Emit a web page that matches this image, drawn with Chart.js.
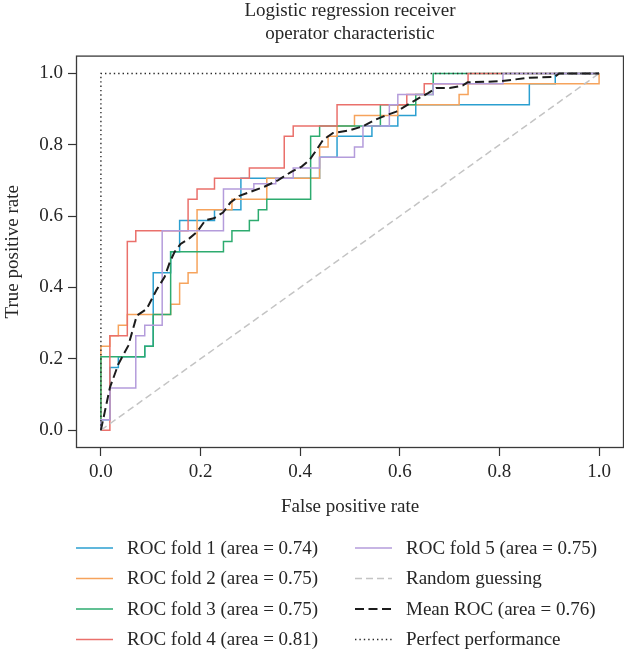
<!DOCTYPE html>
<html>
<head>
<meta charset="utf-8">
<script src="https://cdn.jsdelivr.net/npm/chart.js@4.4.1/dist/chart.umd.min.js"></script>
<style>
  html, body { margin: 0; padding: 0; background: #fff; }
  #wrap { width: 624px; height: 650px; }
</style>
</head>
<body>
<div id="wrap"><canvas id="roc" width="624" height="650"></canvas></div>
<script>
// ---- data ----
const titleLines = ['Logistic regression receiver', 'operator characteristic'];
const xTicks = [0, 0.2, 0.4, 0.6, 0.8, 1.0];
const yTicks = [0, 0.2, 0.4, 0.6, 0.8, 1.0];

const fpr1 = [0, 0, 0.018, 0.018, 0.035, 0.035, 0.088, 0.088, 0.105, 0.105, 0.140, 0.140, 0.158, 0.158, 0.228, 0.228, 0.281, 0.281, 0.439, 0.439, 0.474, 0.474, 0.544, 0.544, 0.596, 0.596, 0.632, 0.632, 0.860, 0.860, 0.912, 0.912, 1];
const tpr1 = [0, 0.029, 0.029, 0.176, 0.176, 0.206, 0.206, 0.235, 0.235, 0.441, 0.441, 0.500, 0.500, 0.588, 0.588, 0.618, 0.618, 0.706, 0.706, 0.765, 0.765, 0.824, 0.824, 0.853, 0.853, 0.882, 0.882, 0.912, 0.912, 0.971, 0.971, 1, 1];

const fpr2 = [0, 0, 0.018, 0.018, 0.035, 0.035, 0.053, 0.053, 0.140, 0.140, 0.158, 0.158, 0.175, 0.175, 0.193, 0.193, 0.263, 0.263, 0.333, 0.333, 0.439, 0.439, 0.456, 0.456, 0.474, 0.474, 0.509, 0.509, 0.596, 0.596, 0.719, 0.719, 0.737, 0.737, 1, 1];
const tpr2 = [0, 0.235, 0.235, 0.265, 0.265, 0.294, 0.294, 0.324, 0.324, 0.353, 0.353, 0.412, 0.412, 0.441, 0.441, 0.618, 0.618, 0.647, 0.647, 0.706, 0.706, 0.794, 0.794, 0.824, 0.824, 0.853, 0.853, 0.882, 0.882, 0.912, 0.912, 0.941, 0.941, 0.971, 0.971, 1];

const fpr3 = [0, 0, 0.088, 0.088, 0.105, 0.105, 0.140, 0.140, 0.246, 0.246, 0.263, 0.263, 0.298, 0.298, 0.316, 0.316, 0.333, 0.333, 0.421, 0.421, 0.439, 0.439, 0.561, 0.561, 0.632, 0.632, 0.667, 0.667, 1];
const tpr3 = [0, 0.206, 0.206, 0.235, 0.235, 0.324, 0.324, 0.500, 0.500, 0.529, 0.529, 0.559, 0.559, 0.588, 0.588, 0.618, 0.618, 0.647, 0.647, 0.824, 0.824, 0.853, 0.853, 0.912, 0.912, 0.941, 0.941, 1, 1];

const fpr4 = [0, 0.018, 0.018, 0.053, 0.053, 0.070, 0.070, 0.175, 0.175, 0.193, 0.193, 0.228, 0.228, 0.298, 0.298, 0.368, 0.368, 0.386, 0.386, 0.474, 0.474, 0.614, 0.614, 0.649, 0.649, 0.737, 0.737, 1];
const tpr4 = [0, 0, 0.265, 0.265, 0.529, 0.529, 0.559, 0.559, 0.647, 0.647, 0.676, 0.676, 0.706, 0.706, 0.735, 0.735, 0.824, 0.824, 0.853, 0.853, 0.912, 0.912, 0.941, 0.941, 0.971, 0.971, 1, 1];

const fpr5 = [0, 0, 0.018, 0.018, 0.070, 0.070, 0.088, 0.088, 0.123, 0.123, 0.246, 0.246, 0.307, 0.307, 0.351, 0.351, 0.386, 0.386, 0.439, 0.439, 0.509, 0.509, 0.526, 0.526, 0.579, 0.579, 0.596, 0.596, 0.667, 0.667, 0.807, 0.807, 1];
const tpr5 = [0, 0.029, 0.029, 0.118, 0.118, 0.265, 0.265, 0.294, 0.294, 0.559, 0.559, 0.676, 0.676, 0.691, 0.691, 0.706, 0.706, 0.735, 0.735, 0.765, 0.765, 0.794, 0.794, 0.853, 0.853, 0.912, 0.912, 0.941, 0.941, 0.971, 0.971, 1, 1];

const meanFpr = [0, 0.018, 0.035, 0.055, 0.072, 0.092, 0.112, 0.128, 0.138, 0.148, 0.160, 0.177, 0.193, 0.210, 0.227, 0.245, 0.260, 0.278, 0.306, 0.329, 0.356, 0.383, 0.403, 0.419, 0.433, 0.446, 0.466, 0.500, 0.526, 0.550, 0.566, 0.593, 0.620, 0.640, 0.656, 0.673, 0.700, 0.726, 0.736, 0.800, 0.860, 0.910, 0.920, 1];
const meanTpr = [0, 0.119, 0.185, 0.237, 0.321, 0.340, 0.394, 0.430, 0.470, 0.500, 0.522, 0.537, 0.556, 0.589, 0.594, 0.610, 0.638, 0.657, 0.671, 0.683, 0.701, 0.725, 0.739, 0.758, 0.786, 0.814, 0.833, 0.841, 0.852, 0.870, 0.879, 0.893, 0.916, 0.932, 0.944, 0.959, 0.959, 0.966, 0.975, 0.978, 0.988, 0.990, 1, 1];

const chanceFpr = [0, 1];
const chanceTpr = [0, 1];
const perfectFpr = [0, 0, 1];
const perfectTpr = [0, 1, 1];

const foldAreas = [0.74, 0.75, 0.75, 0.81, 0.75];
const meanArea = 0.76;
const foldColors = ['#2b9fd0', '#f6a35c', '#2dab6f', '#ea706b', '#b49cdb'];

// ---- build datasets ----
const FONT = "'Liberation Serif', 'DejaVu Serif', serif";
const pts = (xs, ys) => xs.map((x, i) => ({ x: x, y: ys[i] }));

const foldFpr = [fpr1, fpr2, fpr3, fpr4, fpr5];
const foldTpr = [tpr1, tpr2, tpr3, tpr4, tpr5];

const datasets = foldFpr.map((f, i) => ({
  label: `ROC fold ${i + 1} (area = ${foldAreas[i].toFixed(2)})`,
  data: pts(f, foldTpr[i]),
  borderColor: foldColors[i],
  borderWidth: 1.5,
  borderDash: []
}));
datasets.push({
  label: 'Random guessing',
  data: pts(chanceFpr, chanceTpr),
  borderColor: '#c4c4c4', borderWidth: 1.5, borderDash: [7, 4]
});
datasets.push({
  label: `Mean ROC (area = ${meanArea.toFixed(2)})`,
  data: pts(meanFpr, meanTpr),
  borderColor: '#1c1c1c', borderWidth: 2, borderDash: [9, 4.5]
});
datasets.push({
  label: 'Perfect performance',
  data: pts(perfectFpr, perfectTpr),
  borderColor: '#2a2a2a', borderWidth: 1.4, borderDash: [1.4, 3]
});
datasets.forEach((d, i) => {
  d.showLine = true; d.pointRadius = 0; d.tension = 0; d.fill = false;
  d.order = 20 - i; // later series on top, like matplotlib
});

// box around the plot area
const frame = {
  id: 'frame',
  afterDatasetsDraw(chart) {
    const { ctx, chartArea: a } = chart;
    ctx.save();
    ctx.strokeStyle = '#3a3a3a';
    ctx.lineWidth = 1.3;
    ctx.strokeRect(a.left + 0.5, a.top + 0.5, a.right - a.left - 1, a.bottom - a.top - 1);
    ctx.restore();
  }
};

// two-column legend below the x axis title
const legendBox = {
  id: 'legendBox',
  afterDraw(chart) {
    const { ctx, chartArea: a } = chart;
    const colX = [a.left, a.left + 279];
    const rowY0 = a.bottom + 100, rowGap = 30.5;
    ctx.save();
    ctx.font = `19px ${FONT}`;
    ctx.textBaseline = 'middle';
    ctx.fillStyle = '#262626';
    chart.data.datasets.forEach((d, i) => {
      const x = colX[Math.floor(i / 4)];
      const y = rowY0 + (i % 4) * rowGap;
      ctx.beginPath();
      ctx.setLineDash(d.borderDash || []);
      ctx.strokeStyle = d.borderColor;
      ctx.lineWidth = d.borderWidth;
      ctx.moveTo(x, y);
      ctx.lineTo(x + 37, y);
      ctx.stroke();
      ctx.setLineDash([]);
      ctx.fillText(d.label, x + 51, y + 1);
    });
    ctx.restore();
  }
};

const tickGrid = {
  display: true, drawOnChartArea: false, drawTicks: true,
  tickLength: 8, tickColor: '#333', tickWidth: 1.2
};

new Chart(document.getElementById('roc').getContext('2d'), {
  type: 'scatter',
  data: { datasets },
  options: {
    responsive: false, animation: false, events: [],
    layout: { padding: { top: 0, right: 0, bottom: 130, left: 0 } },
    scales: {
      x: {
        type: 'linear', min: -0.05, max: 1.05,
        afterBuildTicks: s => { s.ticks = xTicks.map(v => ({ value: v })); },
        afterFit: s => { s.height = 72; },
        grid: tickGrid,
        border: { display: false },
        ticks: { padding: 5, color: '#262626', font: { family: FONT, size: 19 }, callback: v => v.toFixed(1) },
        title: { display: true, text: 'False positive rate', color: '#262626',
                 font: { family: FONT, size: 19 }, padding: { top: 0, bottom: 2 } }
      },
      y: {
        type: 'linear', min: -0.05, max: 1.05,
        afterBuildTicks: s => { s.ticks = yTicks.map(v => ({ value: v })); },
        afterFit: s => { s.width = 76; },
        grid: tickGrid,
        border: { display: false },
        ticks: { padding: 5, color: '#262626', font: { family: FONT, size: 19 }, callback: v => v.toFixed(1) },
        title: { display: true, text: 'True positive rate', color: '#262626',
                 font: { family: FONT, size: 19 }, padding: { top: 2, bottom: 0 } }
      }
    },
    plugins: {
      legend: { display: false },
      tooltip: { enabled: false },
      title: {
        display: true, text: titleLines, fullSize: false, color: '#262626',
        font: { family: FONT, size: 19, weight: 'normal', lineHeight: 1.2 },
        padding: { top: 0, bottom: 10 }
      }
    }
  },
  plugins: [frame, legendBox]
});
</script>
</body>
</html>
